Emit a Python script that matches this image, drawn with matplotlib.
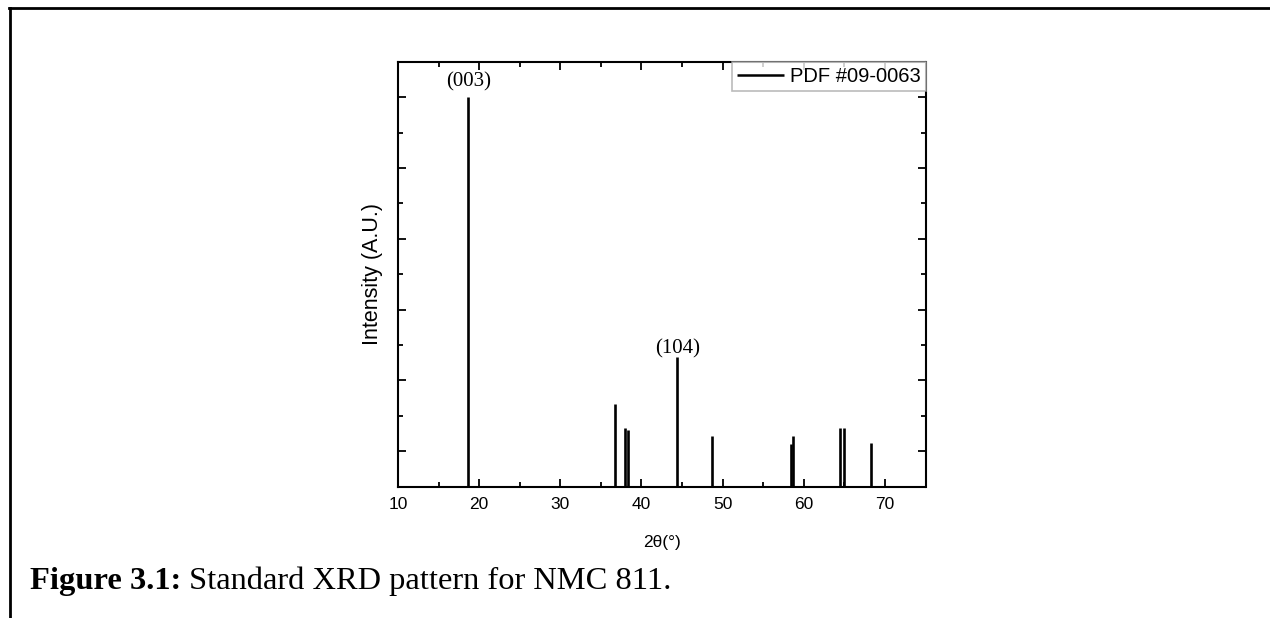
import matplotlib.pyplot as plt
from matplotlib.lines import Line2D

# peak positions (2theta, deg) and relative intensities
two_theta = [18.68, 36.74, 37.94, 38.40, 44.44, 48.72, 58.44, 58.73, 64.44, 64.94, 68.27]
intensity = [100, 13.4, 6.6, 6.1, 26.5, 4.4, 2.1, 4.3, 6.6, 6.6, 2.25]

# hkl labels for the two main reflections
hkl_labels = ["(003)", "(104)"]
hkl_x = [18.68, 44.44]
hkl_y = [104.2, 29.0]

x_ticks = [10, 20, 30, 40, 50, 60, 70]
legend_label = "PDF #09-0063"
caption_bold = "Figure 3.1:"
caption_text = " Standard XRD pattern for NMC 811."

sans = "Liberation Sans"
serif = "Liberation Serif"

fig = plt.figure(figsize=(12.7, 6.18), dpi=100)
ax = fig.add_axes([398 / 1270, 1 - 486.7 / 618, 527.5 / 1270, 425 / 618])

y_bottom = -10
ax.vlines(two_theta, y_bottom, intensity, color="black", lw=1.9, label=legend_label)

for lab, x, y in zip(hkl_labels, hkl_x, hkl_y):
    ax.text(x, y, lab, ha="center", va="center", fontsize=15, family=serif)

ax.set_xlim(10, 75)
ax.set_ylim(y_bottom, 110)
ax.set_xticks(x_ticks)
ax.set_xticks(range(15, 75, 10), minor=True)
ax.set_yticks(range(0, 101, 20))
ax.set_yticks(range(-10, 111, 20), minor=True)
ax.set_yticklabels([])
ax.tick_params(which="both", direction="in", top=True, right=True, width=1.3)
ax.tick_params(which="major", length=6)
ax.tick_params(which="minor", length=3.5)
ax.tick_params(axis="x", pad=7.5, labelsize=12.5)
for lbl in ax.get_xticklabels():
    lbl.set_family(sans)
for s in ax.spines.values():
    s.set_linewidth(1.5)

ax.set_xlabel("2θ(°)", fontsize=12.5, family=sans, va="center")
ax.xaxis.set_label_coords(0.5, (486.7 - 543) / 425)
ax.set_ylabel("Intensity (A.U.)", fontsize=15.5, family=sans, labelpad=7)

leg = ax.legend(loc="upper right", borderaxespad=0, fancybox=False,
                prop={"family": sans, "size": 14.5}, handlelength=2.3,
                handletextpad=0.3, borderpad=0.25)
leg.get_frame().set_edgecolor("#aaaaaa")
leg.get_frame().set_linewidth(1.2)
leg.get_lines()[0].set_linewidth(1.8)

# page border (top and left)
fig.add_artist(Line2D([9 / 1270, 1], [1 - 8 / 618] * 2, color="black", lw=2,
                      transform=fig.transFigure))
fig.add_artist(Line2D([10 / 1270] * 2, [0, 1 - 8 / 618], color="black", lw=2,
                      transform=fig.transFigure))

# caption: bold part then regular part
cap_y = 1 - 589 / 618
t1 = fig.text(30 / 1270, cap_y, caption_bold, fontsize=23.4, family=serif,
              weight="bold", va="baseline")
fig.canvas.draw()
bb = t1.get_window_extent()
fig.text(bb.x1 / 1270, cap_y, caption_text, fontsize=23.4, family=serif,
         va="baseline")

fig.savefig("out.png", dpi=100)
